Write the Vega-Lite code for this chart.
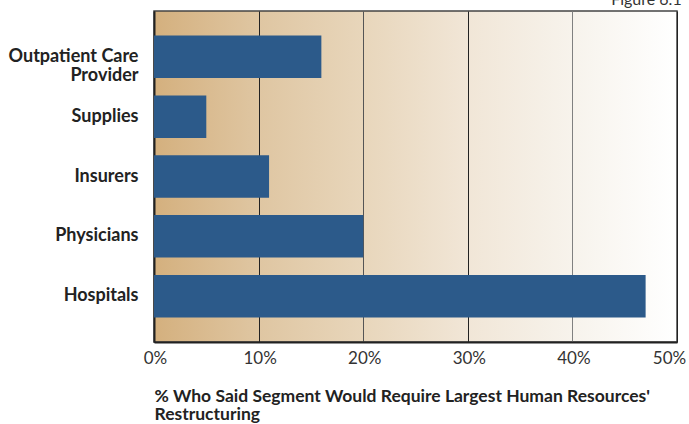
{
  "$schema": "https://vega.github.io/schema/vega-lite/v6.json",
  "autosize": {"type": "none"},
  "padding": {"left": 154, "top": 11, "right": 12, "bottom": 82},
  "width": 523,
  "height": 331,
  "background": "#ffffff",
  "title": {
    "text": "Figure 6.1",
    "anchor": "end",
    "orient": "top",
    "baseline": "alphabetic",
    "offset": 0,
    "dy": 10,
    "dx": -4,
    "font": "Lato",
    "fontSize": 16,
    "fontWeight": "normal",
    "color": "#333333"
  },
  "data": {
    "values": [
      {"segment": "Outpatient Care Provider", "pct": 16},
      {"segment": "Supplies", "pct": 5},
      {"segment": "Insurers", "pct": 11},
      {"segment": "Physicians", "pct": 20},
      {"segment": "Hospitals", "pct": 47}
    ]
  },
  "mark": {"type": "bar", "color": "#2c5a8a"},
  "encoding": {
    "y": {
      "field": "segment",
      "type": "nominal",
      "sort": null,
      "scale": {"paddingInner": 0.29, "paddingOuter": 0.41},
      "axis": {
        "title": null,
        "ticks": false,
        "labelPadding": 16,
        "labelFont": "Lato",
        "labelFontSize": 18,
        "labelFontWeight": "bold",
        "labelColor": "#222222",
        "labelLineHeight": 19,
        "labelExpr": "datum.label == 'Outpatient Care Provider' ? ['Outpatient Care', 'Provider'] : datum.label",
        "domainColor": "#222222",
        "domainWidth": 2
      }
    },
    "x": {
      "field": "pct",
      "type": "quantitative",
      "scale": {"domain": [0, 50], "nice": false},
      "axis": {
        "title": ["% Who Said Segment Would Require Largest Human Resources'", "Restructuring"],
        "titleAnchor": "start",
        "titleAlign": "left",
        "titleFont": "Lato",
        "titleFontSize": 17.5,
        "titleFontWeight": "bold",
        "titleColor": "#222222",
        "titleLineHeight": 18,
        "titlePadding": 21,
        "values": [0, 10, 20, 30, 40, 50],
        "labelExpr": "datum.value + '%'",
        "ticks": false,
        "labelPadding": 8,
        "labelFont": "Lato",
        "labelFontSize": 17,
        "labelColor": "#333333",
        "labelFlush": false,
        "labelOffset": {
          "condition": {"test": "datum.value == 50", "value": -8},
          "value": 1
        },
        "grid": true,
        "gridColor": {
          "condition": [
            {"test": "datum.value == 40", "value": "#808080"},
            {"test": "datum.value == 20", "value": "#555555"}
          ],
          "value": "#222222"
        },
        "gridWidth": 1,
        "domainColor": "#222222",
        "domainWidth": 2
      }
    }
  },
  "config": {
    "view": {
      "stroke": "#444444",
      "strokeWidth": 1.5,
      "fill": {
        "gradient": "linear",
        "x1": 0, "y1": 0, "x2": 1, "y2": 0,
        "stops": [
          {"offset": 0, "color": "#d4b07e"},
          {"offset": 0.2, "color": "#dfc6a2"},
          {"offset": 0.4, "color": "#e8d6bb"},
          {"offset": 0.6, "color": "#f1e6d7"},
          {"offset": 0.8, "color": "#f7f3ec"},
          {"offset": 1, "color": "#ffffff"}
        ]
      }
    }
  }
}
